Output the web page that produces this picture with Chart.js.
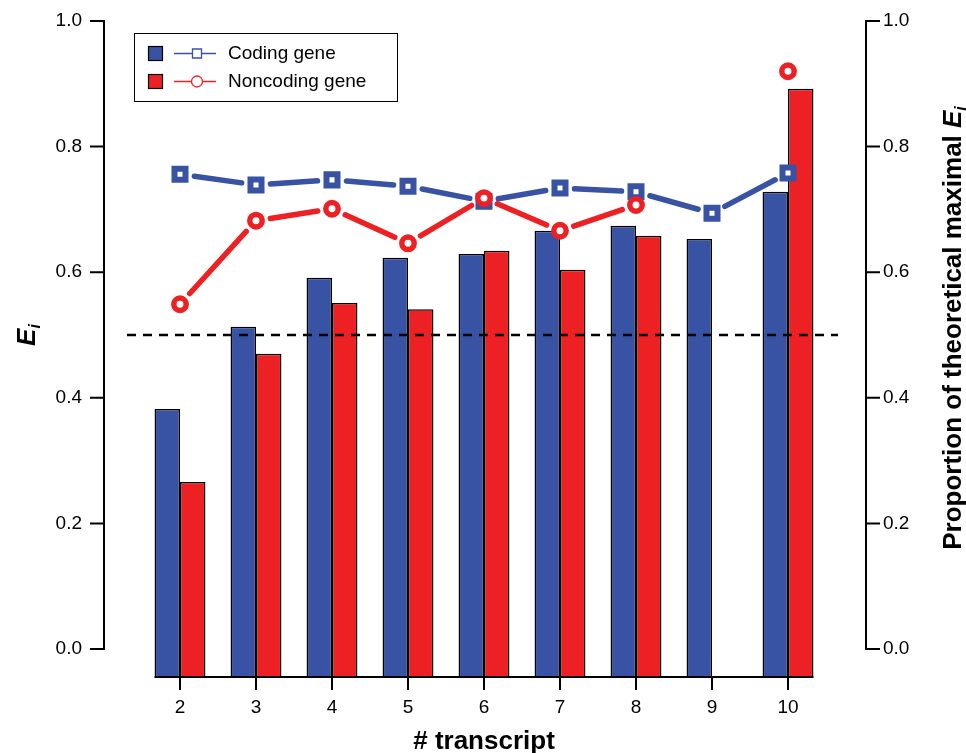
<!DOCTYPE html>
<html><head><meta charset="utf-8">
<script src="https://cdn.jsdelivr.net/npm/chart.js@4/dist/chart.umd.min.js"></script>
<style>html,body{margin:0;padding:0;background:#fff}#wrap{width:966px;height:753px;position:relative}</style>
</head><body><div id="wrap"><canvas id="c"></canvas></div>
<script>
const categories = ['2','3','4','5','6','7','8','9','10'];
const codingEi = [0.382,0.513,0.591,0.623,0.629,0.666,0.674,0.653,0.728];
const noncodingEi = [0.266,0.470,0.551,0.541,0.634,0.604,0.658,null,0.892];
const codingProp = [0.756,0.739,0.747,0.737,0.713,0.734,0.728,0.694,0.758];
const noncodingProp = [0.549,0.682,0.701,0.646,0.718,0.666,0.707,null,0.920];
const yTicks = [0.0,0.2,0.4,0.6,0.8,1.0];
const threshold = 0.5;
const seriesNames = ['Coding gene','Noncoding gene'];

const FONT = "'Liberation Sans', Arial, Helvetica, sans-serif";
const BLUE = '#3953A4';
const RED = '#ED2024';
const Y_MIN = -0.0446;
const GAP = 14.5;

const gapSegment = {
  borderDash: ctx => {
    const L = Math.hypot(ctx.p1.x - ctx.p0.x, ctx.p1.y - ctx.p0.y);
    return [Math.max(L - 2 * GAP, 0.001), 2 * GAP];
  },
  borderDashOffset: () => -GAP
};

const axesPlugin = {
  id: 'axesPlugin',
  afterDatasetsDraw(chart) {
    const ctx = chart.ctx, ca = chart.chartArea;
    const y = chart.scales.y, x = chart.scales.x;
    ctx.save();
    const ty = y.getPixelForValue(threshold);
    ctx.strokeStyle = '#000'; ctx.lineWidth = 2.5; ctx.setLineDash([9, 7]);
    ctx.beginPath(); ctx.moveTo(ca.left - 15, ty); ctx.lineTo(ca.right + 12, ty); ctx.stroke();
    ctx.setLineDash([]);
    ctx.lineWidth = 2; ctx.lineCap = 'butt';
    const lx = ca.left - 38;
    ctx.beginPath();
    ctx.moveTo(lx, y.getPixelForValue(yTicks[0]) + 1); ctx.lineTo(lx, y.getPixelForValue(yTicks[yTicks.length - 1]) - 1);
    yTicks.forEach(v => { const p = y.getPixelForValue(v); ctx.moveTo(lx - 14, p); ctx.lineTo(lx + 1, p); });
    ctx.stroke();
    const y1 = chart.scales.y1;
    const rx = ca.right + 40;
    ctx.beginPath();
    ctx.moveTo(rx, y1.getPixelForValue(yTicks[0]) + 1); ctx.lineTo(rx, y1.getPixelForValue(yTicks[yTicks.length - 1]) - 1);
    yTicks.forEach(v => { const p = y1.getPixelForValue(v); ctx.moveTo(rx - 1, p); ctx.lineTo(rx + 14, p); });
    ctx.stroke();
    const m0 = chart.getDatasetMeta(0).data[0];
    const m1 = chart.getDatasetMeta(1).data[categories.length - 1];
    const bx0 = m0.x - m0.width / 2, bx1 = m1.x + m1.width / 2;
    ctx.beginPath();
    ctx.moveTo(bx0, ca.bottom); ctx.lineTo(bx1, ca.bottom);
    categories.forEach((c, i) => { const p = x.getPixelForValue(i); ctx.moveTo(p, ca.bottom); ctx.lineTo(p, ca.bottom + 13); });
    ctx.stroke();
    ctx.restore();
  },
  afterDraw(chart) {
    const ctx = chart.ctx, ca = chart.chartArea;
    ctx.save();
    ctx.fillStyle = '#000';
    ctx.font = 'bold 26px ' + FONT;
    ctx.textAlign = 'center'; ctx.textBaseline = 'alphabetic';
    ctx.fillText('# transcript', (ca.left + ca.right) / 2, 749);
    ctx.save();
    ctx.translate(28, 335); ctx.rotate(-Math.PI / 2);
    ctx.font = 'italic bold 26px ' + FONT;
    const wE = ctx.measureText('E').width;
    ctx.font = 'italic bold 16px ' + FONT;
    const wi = ctx.measureText('i').width;
    let sx = -(wE + wi) / 2;
    ctx.textAlign = 'left'; ctx.textBaseline = 'middle';
    ctx.font = 'italic bold 26px ' + FONT; ctx.fillText('E', sx, 0);
    ctx.font = 'italic bold 16px ' + FONT; ctx.fillText('i', sx + wE, 8);
    ctx.restore();
    ctx.save();
    ctx.translate(954, 328); ctx.rotate(-Math.PI / 2);
    const main = 'Proportion of theoretical maximal ';
    ctx.font = 'bold 26px ' + FONT;
    const wm = ctx.measureText(main).width;
    ctx.font = 'italic bold 26px ' + FONT;
    const wE2 = ctx.measureText('E').width;
    ctx.font = 'italic bold 16px ' + FONT;
    const wi2 = ctx.measureText('i').width;
    sx = -(wm + wE2 + wi2) / 2;
    ctx.textAlign = 'left'; ctx.textBaseline = 'middle';
    ctx.font = 'bold 26px ' + FONT; ctx.fillText(main, sx, 0);
    ctx.font = 'italic bold 26px ' + FONT; ctx.fillText('E', sx + wm, 0);
    ctx.font = 'italic bold 16px ' + FONT; ctx.fillText('i', sx + wm + wE2, 8);
    ctx.restore();
    ctx.lineWidth = 1; ctx.strokeStyle = '#000';
    ctx.strokeRect(134.5, 33.5, 263, 68);
    const rows = [
      {name: seriesNames[0], color: BLUE, style: 'rect', cy: 53.5},
      {name: seriesNames[1], color: RED, style: 'circle', cy: 81.5}
    ];
    rows.forEach(r => {
      ctx.fillStyle = r.color;
      ctx.fillRect(148, r.cy - 7.5, 15, 15);
      ctx.strokeStyle = '#000'; ctx.lineWidth = 1.2;
      ctx.strokeRect(148.5, r.cy - 7, 14, 14);
      ctx.strokeStyle = r.color; ctx.lineWidth = 1.3;
      ctx.beginPath(); ctx.moveTo(174, r.cy); ctx.lineTo(216, r.cy); ctx.stroke();
      ctx.fillStyle = '#fff';
      ctx.beginPath();
      if (r.style === 'rect') ctx.rect(192.5, r.cy - 4.5, 9, 9);
      else ctx.arc(197, r.cy, 5.5, 0, Math.PI * 2);
      ctx.fill(); ctx.stroke();
      ctx.fillStyle = '#000';
      ctx.font = '19px ' + FONT; ctx.textAlign = 'left'; ctx.textBaseline = 'middle';
      ctx.fillText(r.name, 228, r.cy);
    });
    ctx.restore();
  }
};

const tickFont = {family: FONT, size: 19};
const yAxis = (pos, width) => ({
  type: 'linear', position: pos, min: Y_MIN, max: 1.0,
  grid: {display: false, drawTicks: false},
  border: {display: false},
  ticks: {padding: pos === 'left' ? 60 : 57, font: tickFont, color: '#000', callback: v => Number(v).toFixed(1)},
  afterBuildTicks: s => { s.ticks = yTicks.map(v => ({value: v})); },
  afterFit: s => { s.width = width; s.paddingTop = 0; s.paddingBottom = 0; }
});

new Chart(document.getElementById('c'), {
  data: {
    labels: categories,
    datasets: [
      {type: 'bar', label: seriesNames[0], data: codingEi, backgroundColor: BLUE, borderColor: '#000', borderWidth: 1.5, base: Y_MIN, yAxisID: 'y', order: 3, categoryPercentage: 0.67, barPercentage: 1.0},
      {type: 'bar', label: seriesNames[1], data: noncodingEi, backgroundColor: RED, borderColor: '#000', borderWidth: 1.5, base: Y_MIN, yAxisID: 'y', order: 3, categoryPercentage: 0.67, barPercentage: 1.0},
      {type: 'line', label: seriesNames[0], data: codingProp, yAxisID: 'y1', borderColor: BLUE, borderWidth: 5.5, borderCapStyle: 'round', pointStyle: 'rect', pointRadius: 7.8, pointBorderWidth: 6, pointBackgroundColor: '#fff', pointBorderColor: BLUE, segment: gapSegment, spanGaps: false, order: 2},
      {type: 'line', label: seriesNames[1], data: noncodingProp, yAxisID: 'y1', borderColor: RED, borderWidth: 5.5, borderCapStyle: 'round', pointStyle: 'circle', pointRadius: 6.2, pointBorderWidth: 5.5, pointBackgroundColor: '#fff', pointBorderColor: RED, segment: gapSegment, spanGaps: false, order: 1}
    ]
  },
  options: {
    responsive: true, maintainAspectRatio: false, animation: false,
    layout: {padding: {top: 21, left: 0, right: 0, bottom: 0}},
    plugins: {legend: {display: false}, tooltip: {enabled: false}},
    scales: {
      x: {type: 'category', offset: true, grid: {display: false, drawTicks: false}, border: {display: false},
          ticks: {padding: 19, font: tickFont, color: '#000', maxRotation: 0, autoSkip: false},
          afterFit: s => { s.height = 76; s.paddingLeft = 0; s.paddingRight = 0; }},
      y: yAxis('left', 142),
      y1: yAxis('right', 140)
    }
  },
  plugins: [axesPlugin]
});
</script>
</body></html>
